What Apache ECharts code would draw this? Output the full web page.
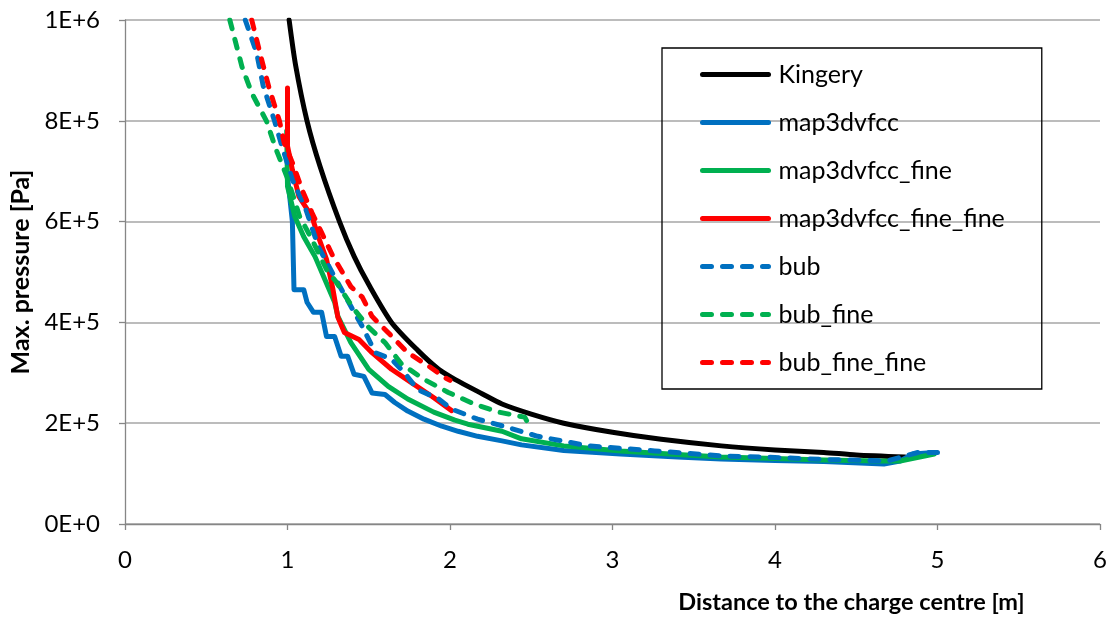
<!DOCTYPE html>
<html>
<head>
<meta charset="utf-8">
<script src="https://cdn.jsdelivr.net/npm/echarts@6/dist/echarts.min.js"></script>
<style>
  html, body { margin: 0; padding: 0; background: #fff; }
  #chart { width: 1110px; height: 619px; }
</style>
</head>
<body>
<div id="chart"></div>
<script>
// distance [m], max pressure [Pa]
var kingery = [
  [1.01, 1.0e6], [1.05, 0.91e6], [1.12, 0.80e6], [1.2, 0.71e6], [1.32, 0.60e6], [1.41, 0.531e6],
  [1.5, 0.475e6], [1.64, 0.40e6], [1.8, 0.345e6], [1.93, 0.307e6], [2.03, 0.287e6], [2.2, 0.258e6],
  [2.32, 0.238e6], [2.5, 0.218e6], [2.7, 0.200e6], [3.0, 0.182e6], [3.3, 0.168e6], [3.67, 0.155e6],
  [4.0, 0.147e6], [4.3, 0.142e6], [4.5, 0.137e6], [4.8, 0.133e6]
];
var map3dvfcc = [
  [1.0, 0.69e6], [1.03, 0.60e6], [1.04, 0.465e6], [1.10, 0.465e6], [1.12, 0.44e6], [1.16, 0.42e6],
  [1.21, 0.42e6], [1.24, 0.372e6], [1.29, 0.372e6], [1.33, 0.333e6], [1.37, 0.333e6], [1.41, 0.297e6],
  [1.47, 0.293e6], [1.52, 0.26e6], [1.60, 0.257e6], [1.66, 0.241e6], [1.74, 0.224e6], [1.84, 0.208e6],
  [1.95, 0.194e6], [2.05, 0.184e6], [2.17, 0.174e6], [2.32, 0.165e6], [2.44, 0.157e6], [2.7, 0.146e6],
  [3.05, 0.139e6], [3.4, 0.133e6], [3.67, 0.129e6], [4.0, 0.126e6], [4.3, 0.124e6], [4.67, 0.119e6],
  [4.77, 0.125e6], [4.85, 0.139e6], [4.98, 0.142e6]
];
var map3dvfccFine = [
  [0.995, 0.78e6], [1.0, 0.67e6], [1.045, 0.61e6], [1.10, 0.57e6], [1.17, 0.53e6], [1.23, 0.485e6],
  [1.29, 0.44e6], [1.31, 0.412e6], [1.39, 0.36e6], [1.50, 0.307e6], [1.62, 0.273e6], [1.74, 0.248e6],
  [1.90, 0.222e6], [2.03, 0.206e6], [2.11, 0.198e6], [2.32, 0.184e6], [2.44, 0.169e6], [2.7, 0.155e6],
  [3.05, 0.145e6], [3.4, 0.138e6], [3.67, 0.133e6], [4.0, 0.130e6], [4.3, 0.127e6], [4.65, 0.125e6],
  [4.77, 0.125e6], [4.98, 0.139e6]
];
var map3dvfccFineFine = [
  [1.0, 0.865e6], [1.0, 0.75e6], [1.03, 0.703e6], [1.07, 0.65e6], [1.15, 0.61e6], [1.19, 0.57e6],
  [1.24, 0.525e6], [1.28, 0.465e6], [1.31, 0.41e6], [1.35, 0.38e6], [1.44, 0.366e6], [1.52, 0.34e6],
  [1.64, 0.307e6], [1.76, 0.281e6], [1.89, 0.253e6], [2.01, 0.225e6]
];
var bub = [
  [0.74, 1.0e6], [0.81, 0.935e6], [0.85, 0.87e6], [0.92, 0.80e6], [0.96, 0.756e6], [1.03, 0.683e6],
  [1.11, 0.627e6], [1.19, 0.55e6], [1.29, 0.49e6], [1.39, 0.432e6], [1.46, 0.392e6], [1.54, 0.34e6],
  [1.64, 0.327e6], [1.72, 0.30e6], [1.80, 0.267e6], [1.93, 0.248e6], [2.01, 0.228e6], [2.17, 0.208e6],
  [2.33, 0.194e6], [2.54, 0.174e6], [2.85, 0.155e6], [3.26, 0.145e6], [3.67, 0.135e6], [4.0, 0.132e6],
  [4.3, 0.128e6], [4.69, 0.125e6], [4.88, 0.142e6], [5.0, 0.142e6]
];
var bubFine = [
  [0.645, 1.0e6], [0.72, 0.907e6], [0.78, 0.855e6], [0.87, 0.80e6], [0.93, 0.743e6], [0.995, 0.69e6],
  [1.075, 0.61e6], [1.15, 0.565e6], [1.24, 0.505e6], [1.30, 0.48e6], [1.40, 0.43e6], [1.50, 0.39e6],
  [1.60, 0.36e6], [1.70, 0.318e6], [1.84, 0.287e6], [1.99, 0.261e6], [2.15, 0.238e6], [2.30, 0.222e6],
  [2.46, 0.212e6], [2.50, 0.188e6]
];
var bubFineFine = [
  [0.78, 1.0e6], [0.83, 0.935e6], [0.885, 0.867e6], [0.95, 0.80e6], [0.98, 0.756e6], [1.03, 0.717e6],
  [1.09, 0.663e6], [1.15, 0.618e6], [1.21, 0.578e6], [1.28, 0.531e6], [1.39, 0.471e6], [1.46, 0.45e6],
  [1.52, 0.412e6], [1.60, 0.386e6], [1.74, 0.34e6], [1.87, 0.313e6], [1.97, 0.29e6], [2.0, 0.285e6]
];
var seriesNames = ['Kingery', 'map3dvfcc', 'map3dvfcc_fine', 'map3dvfcc_fine_fine', 'bub', 'bub_fine', 'bub_fine_fine'];
var yTickLabels = ['0E+0', '2E+5', '4E+5', '6E+5', '8E+5', '1E+6'];
var xTickLabels = ['0', '1', '2', '3', '4', '5', '6'];

var FONT = 'Lato';
var dash = [9, 11];
var LW = 5;

function mkSeries(name, data, color, dashed) {
  return {
    name: name,
    type: 'line',
    data: data,
    showSymbol: false,
    symbol: 'none',
    smooth: name === 'Kingery' ? 0.25 : false,
    color: color,
    lineStyle: { color: color, width: LW, type: dashed ? dash : 'solid', cap: 'round', join: 'round' },
    animation: false
  };
}

var series = [
  mkSeries(seriesNames[0], kingery, '#000000', false),
  mkSeries(seriesNames[1], map3dvfcc, '#0070C0', false),
  mkSeries(seriesNames[2], map3dvfccFine, '#00B050', false),
  mkSeries(seriesNames[3], map3dvfccFineFine, '#FF0000', false),
  mkSeries(seriesNames[4], bub, '#0070C0', true),
  mkSeries(seriesNames[5], bubFine, '#00B050', true),
  mkSeries(seriesNames[6], bubFineFine, '#FF0000', true)
];

var legendData = series.map(function (s) {
  return {
    name: s.name,
    itemStyle: { opacity: 0 },
    lineStyle: { color: s.color, width: LW, type: s.lineStyle.type, cap: 'round' }
  };
});

var chart = echarts.init(document.getElementById('chart'));
var option = {
  backgroundColor: '#fff',
  grid: { left: 123, right: 10, top: 20, bottom: 94 },
  legend: {
    orient: 'vertical',
    left: 662,
    top: 48,
    padding: [14, 37, 14, 38],
    itemGap: 23,
    itemWidth: 66,
    itemHeight: 14,
    itemStyle: { opacity: 0 },
    borderColor: '#000',
    borderWidth: 1.3,
    textStyle: { fontFamily: FONT, fontSize: 25, color: '#000', padding: [0, 0, 0, 5] },
    data: legendData
  },
  xAxis: {
    type: 'value',
    min: 0,
    max: 6,
    interval: 1,
    name: 'Distance to the charge centre [m]',
    nameLocation: 'middle',
    nameGap: 66,
    nameTextStyle: { fontFamily: FONT, fontSize: 23.5, fontWeight: 'bold', color: '#000', padding: [0, 0, 0, 478] },
    axisLine: { show: true, lineStyle: { color: '#868686', width: 1.3 } },
    axisTick: { show: true, length: 6, lineStyle: { color: '#868686', width: 1.3 } },
    axisLabel: {
      fontFamily: FONT, fontSize: 24, color: '#000', margin: 24,
      formatter: function (v) { return xTickLabels[Math.round(v)]; }
    },
    splitLine: { show: false }
  },
  yAxis: {
    type: 'value',
    min: 0,
    max: 1e6,
    interval: 2e5,
    name: 'Max. pressure [Pa]',
    nameLocation: 'middle',
    nameGap: 92,
    nameTextStyle: { fontFamily: FONT, fontSize: 25, fontWeight: 'bold', color: '#000' },
    axisLine: { show: true, lineStyle: { color: '#868686', width: 1.3 } },
    axisTick: { show: true, inside: false, length: 6, lineStyle: { color: '#868686', width: 1.3 } },
    axisLabel: {
      fontFamily: FONT, fontSize: 24, color: '#000', margin: 25,
      formatter: function (v) { return yTickLabels[Math.round(v / 2e5)]; }
    },
    splitLine: { show: true, lineStyle: { color: '#a6a6a6', width: 1.5 } }
  },
  series: series
};
chart.setOption(option);
</script>
</body>
</html>
